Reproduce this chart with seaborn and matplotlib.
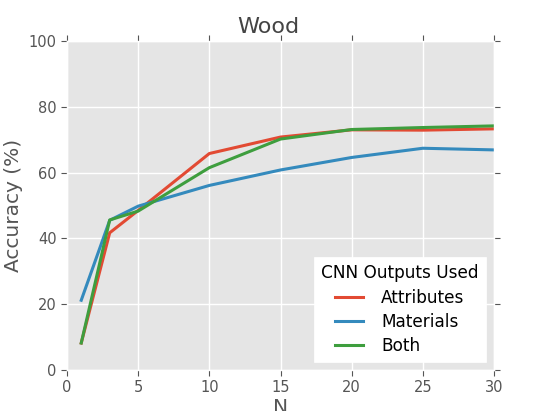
import numpy as np
import pandas as pd
import matplotlib
matplotlib.use("Agg")
import matplotlib.pyplot as plt
import seaborn as sns

# values
n_values = [1, 3, 5, 10, 15, 20, 25, 30]
attributes = [8.2, 41.7, 48.5, 65.8, 70.8, 73.0, 72.9, 73.3]
materials = [21.2, 45.5, 49.8, 56.1, 60.8, 64.6, 67.4, 66.9]
both = [8.2, 45.6, 48.3, 61.5, 70.2, 73.1, 73.7, 74.2]

series_names = ["Attributes", "Materials", "Both"]
series_colors = ["#E24A33", "#348ABD", "#3E9E3E"]

x_ticks = [0, 5, 10, 15, 20, 25, 30]
y_ticks = [0, 20, 40, 60, 80, 100]

df = pd.DataFrame({
    "N": n_values * 3,
    "Accuracy": attributes + materials + both,
    "Outputs": np.repeat(series_names, len(n_values)),
})

plt.style.use("ggplot")
plt.rcParams["font.family"] = ["DejaVu Sans"]

fig, ax = plt.subplots(figsize=(5.48, 4.11), dpi=100)
fig.subplots_adjust(left=67 / 548, right=494 / 548, top=1 - 41 / 411, bottom=1 - 370 / 411)

sns.lineplot(data=df, x="N", y="Accuracy", hue="Outputs",
             hue_order=series_names, palette=series_colors,
             linewidth=2.2, ax=ax, legend=False)

# legend built by hand so the title and spacing match
handles = [plt.Line2D([], [], color=c, linewidth=2.2) for c in series_colors]
leg = ax.legend(handles, series_names, title="CNN Outputs Used", loc="lower right",
                fontsize=12.2, title_fontsize=12.2, handlelength=1.6,
                handletextpad=1.1, borderaxespad=0.45, borderpad=0.45,
                labelspacing=0.36, frameon=True, fancybox=False)
leg.get_frame().set_facecolor("white")
leg.get_frame().set_edgecolor("white")
leg.get_frame().set_alpha(1.0)
for t in leg.get_texts():
    t.set_color("black")
leg.get_title().set_color("black")

ax.set_xlim(0, 30)
ax.set_ylim(0, 100)
ax.set_xticks(x_ticks)
ax.set_yticks(y_ticks)
ax.tick_params(axis="both", which="both", direction="out", length=4,
               width=0.8, colors="#555555", labelsize=10.5,
               top=True, right=True, labeltop=False, labelright=False)
ax.grid(True, color="white", linewidth=1)

ax.set_title("Wood", fontsize=16, color="#444444", x=0.472)
ax.set_xlabel("N", fontsize=14.5, color="#555555", labelpad=2)
ax.set_ylabel("Accuracy (%)", fontsize=14.5, color="#555555")

plt.savefig("out.png", dpi=100)
